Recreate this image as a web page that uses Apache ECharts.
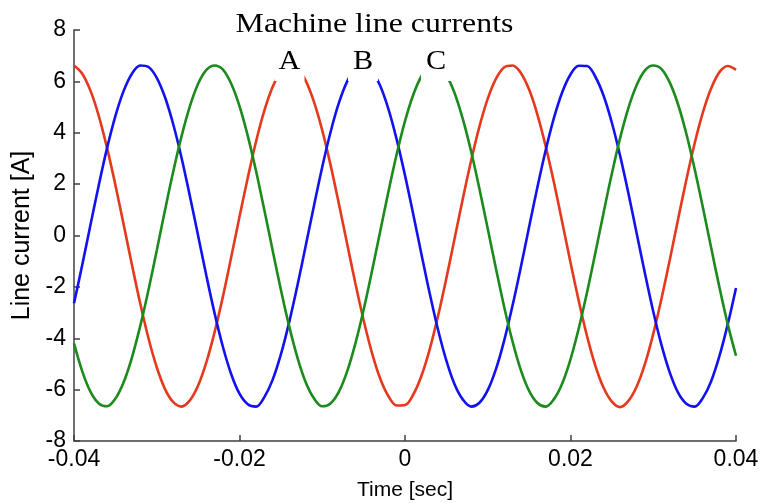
<!DOCTYPE html>
<html>
<head>
<meta charset="utf-8">
<script src="https://cdn.jsdelivr.net/npm/echarts@6/dist/echarts.min.js"></script>
<style>
  html, body { margin: 0; padding: 0; background: #fff; }
  #chart { width: 762px; height: 504px; }
</style>
</head>
<body>
<div id="chart"></div>
<script>
// Sample instants (seconds), 1 ms apart
const timeSec = [
  -0.040, -0.039, -0.038, -0.037, -0.036, -0.035, -0.034, -0.033, -0.032, -0.031,
  -0.030, -0.029, -0.028, -0.027, -0.026, -0.025, -0.024, -0.023, -0.022, -0.021,
  -0.020, -0.019, -0.018, -0.017, -0.016, -0.015, -0.014, -0.013, -0.012, -0.011,
  -0.010, -0.009, -0.008, -0.007, -0.006, -0.005, -0.004, -0.003, -0.002, -0.001,
   0.000,  0.001,  0.002,  0.003,  0.004,  0.005,  0.006,  0.007,  0.008,  0.009,
   0.010,  0.011,  0.012,  0.013,  0.014,  0.015,  0.016,  0.017,  0.018,  0.019,
   0.020,  0.021,  0.022,  0.023,  0.024,  0.025,  0.026,  0.027,  0.028,  0.029,
   0.030,  0.031,  0.032,  0.033,  0.034,  0.035,  0.036,  0.037,  0.038,  0.039,
   0.040
];

// Line current of phase A (red), amperes
const currentA = [
  6.62, 6.30, 5.63, 4.65, 3.40, 1.97, 0.43, -1.14, -2.64, -4.00,
  -5.13, -5.98, -6.49, -6.66, -6.42, -5.84, -4.93, -3.75, -2.37, -0.84,
  0.73, 2.25, 3.66, 4.86, 5.78, 6.39, 6.63, 6.51, 6.03, 5.20,
  4.09, 2.75, 1.25, -0.31, -1.86, -3.30, -4.56, -5.57, -6.26, -6.62,
  -6.60, -6.19, -5.45, -4.41, -3.12, -1.66, -0.11, 1.45, 2.93, 4.25,
  5.33, 6.11, 6.55, 6.62, 6.33, 5.68, 4.71, 3.48, 2.06, 0.52,
  -1.05, -2.55, -3.92, -5.07, -5.93, -6.47, -6.68, -6.44, -5.88, -5.00,
  -3.83, -2.45, -0.94, 0.63, 2.17, 3.58, 4.79, 5.73, 6.36, 6.60,
  6.45
];

// Line current of phase B (blue), amperes
const currentB = [
  -2.64, -1.14, 0.43, 1.97, 3.41, 4.65, 5.63, 6.30, 6.62, 6.56,
  6.14, 5.38, 4.32, 3.02, 1.54, -0.01, -1.57, -3.04, -4.34, -5.40,
  -6.16, -6.57, -6.66, -6.29, -5.62, -4.63, -3.38, -1.95, -0.40, 1.16,
  2.67, 4.02, 5.15, 5.99, 6.49, 6.64, 6.41, 5.83, 4.92, 3.73,
  2.34, 0.82, -0.75, -2.28, -3.68, -4.87, -5.80, -6.39, -6.66, -6.51,
  -6.02, -5.19, -4.07, -2.72, -1.23, 0.34, 1.88, 3.32, 4.58, 5.58,
  6.27, 6.61, 6.60, 6.18, 5.44, 4.39, 3.10, 1.64, 0.08, -1.48,
  -2.96, -4.27, -5.34, -6.12, -6.55, -6.66, -6.32, -5.67, -4.69, -3.46,
  -2.04
];

// Line current of phase C (green), amperes
const currentC = [
  -4.20, -5.29, -6.09, -6.54, -6.65, -6.35, -5.71, -4.75, -3.53, -2.12,
  -0.58, 0.99, 2.50, 3.87, 5.03, 5.91, 6.45, 6.62, 6.46, 5.91,
  5.04, 3.88, 2.51, 0.99, -0.57, -2.11, -3.53, -4.75, -5.71, -6.34,
  -6.65, -6.54, -6.09, -5.30, -4.21, -2.89, -1.40, 0.16, 1.71, 3.17,
  4.45, 5.48, 6.21, 6.59, 6.60, 6.24, 5.54, 4.52, 3.26, 1.81,
  0.26, -1.30, -2.80, -4.13, -5.24, -6.05, -6.52, -6.66, -6.37, -5.76,
  -4.82, -3.61, -2.21, -0.68, 0.89, 2.41, 3.80, 4.97, 5.86, 6.43,
  6.62, 6.48, 5.95, 5.10, 3.96, 2.59, 1.09, -0.48, -2.02, -3.45,
  -4.68
];

const phaseNames = ['A', 'B', 'C'];
const phaseColors = ['#e5391e', '#1212ee', '#1c8a1c'];
const phaseCurrents = [currentA, currentB, currentC];

const SANS = '"Liberation Sans", Arial, Helvetica, sans-serif';
const SERIF = '"Liberation Serif", "Times New Roman", serif';
const AXIS_COLOR = '#404040';

const chart = echarts.init(document.getElementById('chart'), null, { renderer: 'canvas' });

const toPairs = values => timeSec.map((t, i) => [t, values[i]]);

// Phase tags sit on white boxes that hide the tops of the waves under them
const tagCenters = [289.5, 363, 436];
const tagGraphics = [];
phaseNames.forEach((name, i) => {
  tagGraphics.push({
    type: 'rect',
    z: 100,
    shape: { x: tagCenters[i] - 15, y: 42, width: 30, height: 39 },
    style: { fill: '#ffffff' }
  });
  tagGraphics.push({
    type: 'text',
    z: 101,
    x: tagCenters[i],
    y: 62,
    scaleX: 1.12,
    style: {
      text: name,
      x: 0,
      y: 0,
      fill: '#000',
      font: '27px ' + SERIF,
      textAlign: 'center',
      verticalAlign: 'middle'
    }
  });
});

const option = {
  animation: false,
  backgroundColor: '#ffffff',
  grid: { left: 74, right: 26, top: 30, bottom: 63, containLabel: false, outerBoundsMode: 'none' },
  xAxis: {
    type: 'value',
    min: -0.04,
    max: 0.04,
    interval: 0.02,
    name: 'Time [sec]',
    nameLocation: 'middle',
    nameGap: 39,
    nameTextStyle: { fontFamily: SANS, fontSize: 21, color: '#000' },
    axisLine: { show: true, onZero: false, lineStyle: { color: AXIS_COLOR, width: 1.5 } },
    axisTick: { show: true, inside: true, length: 6, lineStyle: { color: AXIS_COLOR, width: 1.5 } },
    axisLabel: {
      fontFamily: SANS, fontSize: 23, color: '#000', margin: 7,
      formatter: v => (Math.abs(v) < 1e-9 ? '0' : v.toFixed(2))
    },
    splitLine: { show: false }
  },
  yAxis: {
    type: 'value',
    min: -8,
    max: 8,
    interval: 2,
    name: 'Line current [A]',
    nameLocation: 'middle',
    nameGap: 39,
    nameRotate: 90,
    nameTextStyle: { fontFamily: SANS, fontSize: 25, color: '#000' },
    axisLine: { show: true, onZero: false, lineStyle: { color: AXIS_COLOR, width: 1.5 } },
    axisTick: { show: true, inside: true, length: 6, lineStyle: { color: AXIS_COLOR, width: 1.5 } },
    axisLabel: {
      fontFamily: SANS, fontSize: 23, color: '#000', margin: 8,
      formatter: v => String(Math.round(v))
    },
    splitLine: { show: false }
  },
  series: phaseNames.map((name, i) => ({
    name: name,
    type: 'line',
    data: toPairs(phaseCurrents[i]),
    showSymbol: false,
    smooth: 0.35,
    clip: true,
    lineStyle: { color: phaseColors[i], width: 2.6 },
    itemStyle: { color: phaseColors[i] }
  })),
  graphic: [
    {
      type: 'text',
      z: 101,
      x: 374.5,
      y: 25,
      scaleX: 1.18,
      style: {
        text: 'Machine line currents',
        x: 0,
        y: 0,
        fill: '#000',
        font: '27px ' + SERIF,
        textAlign: 'center',
        verticalAlign: 'middle'
      }
    }
  ].concat(tagGraphics)
};

chart.setOption(option);
</script>
</body>
</html>
